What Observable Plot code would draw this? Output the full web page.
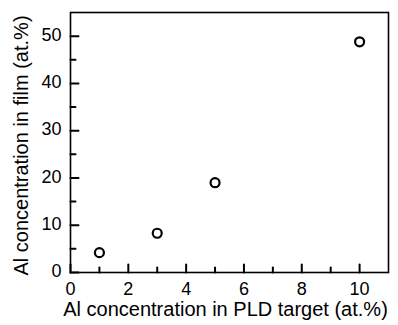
<!DOCTYPE html>
<html><head><meta charset="utf-8">
<script src="https://cdn.jsdelivr.net/npm/d3@7"></script>
<script src="https://cdn.jsdelivr.net/npm/@observablehq/plot@0.6"></script>
<style>
body{margin:0;background:#fff;}
svg{font-family:Arial,"Liberation Sans",sans-serif;}
</style></head>
<body><div id="chart"></div>
<script>
const targetConc = [1, 3, 5, 10];
const filmConc = [4.2, 8.3, 19.0, 48.8];
const xMajorTicks = [0, 2, 4, 6, 8, 10];
const xMinorTicks = [1, 3, 5, 7, 9];
const yMajorTicks = [0, 10, 20, 30, 40, 50];
const yMinorTicks = [5, 15, 25, 35, 45];
const xTitle = "Al concentration in PLD target (at.%)";
const yTitle = "Al concentration in film (at.%)";
const xDomain = [0, 11];
const yDomain = [0, 55];

const data = targetConc.map((x, i) => ({x, y: filmConc[i]}));
const W = 398, H = 325, mL = 70, mR = 10, mT = 12, mB = 53;
const pw = W - mL - mR, ph = H - mT - mB;
const yPerPx = (yDomain[1] - yDomain[0]) / ph;
const xPerPx = (xDomain[1] - xDomain[0]) / pw;
const majorLen = 8, minorLen = 5;

// inward tick segments built from the tick arrays (lengths in px -> data units)
const segs = [];
xMajorTicks.forEach((t, i) => { segs.push({k: "xM" + i, x: t, y: yDomain[0]}, {k: "xM" + i, x: t, y: yDomain[0] + majorLen * yPerPx}); });
xMinorTicks.forEach((t, i) => { segs.push({k: "xm" + i, x: t, y: yDomain[0]}, {k: "xm" + i, x: t, y: yDomain[0] + minorLen * yPerPx}); });
yMajorTicks.forEach((t, i) => { segs.push({k: "yM" + i, x: xDomain[0], y: t}, {k: "yM" + i, x: xDomain[0] + majorLen * xPerPx, y: t}); });
yMinorTicks.forEach((t, i) => { segs.push({k: "ym" + i, x: xDomain[0], y: t}, {k: "ym" + i, x: xDomain[0] + minorLen * xPerPx, y: t}); });

const chart = Plot.plot({
  width: W, height: H,
  marginLeft: mL, marginRight: mR, marginTop: mT, marginBottom: mB,
  style: {fontFamily: "Arial, 'Liberation Sans', sans-serif", color: "#000", background: "#fff"},
  x: {domain: xDomain, axis: null},
  y: {domain: yDomain, axis: null},
  marks: [
    Plot.frame({stroke: "#000", strokeWidth: 1.6}),
    Plot.line(segs, {x: "x", y: "y", z: "k", stroke: "#000", strokeWidth: 2}),
    Plot.text(xMajorTicks, {x: d => d, text: d => String(d), frameAnchor: "bottom", lineAnchor: "top", dy: 10, fontSize: 18, fill: "#000"}),
    Plot.text(yMajorTicks, {y: d => d, text: d => String(d), frameAnchor: "left", textAnchor: "end", lineAnchor: "middle", dx: -9, dy: -1, fontSize: 18, fill: "#000"}),
    Plot.text([xTitle], {text: d => d, frameAnchor: "bottom", textAnchor: "middle", lineAnchor: "bottom", dx: 155 - pw / 2, dy: 43, fontSize: 20, fill: "#000"}),
    Plot.text([yTitle], {text: d => d, frameAnchor: "left", textAnchor: "middle", lineAnchor: "bottom", rotate: -90, dx: -43, dy: 145 - mT - ph / 2, fontSize: 20, fill: "#000"}),
    Plot.dot(data, {x: "x", y: "y", r: 4.5, stroke: "#000", strokeWidth: 2.2, fill: "none"})
  ]
});
document.getElementById("chart").appendChild(chart);
</script></body></html>
